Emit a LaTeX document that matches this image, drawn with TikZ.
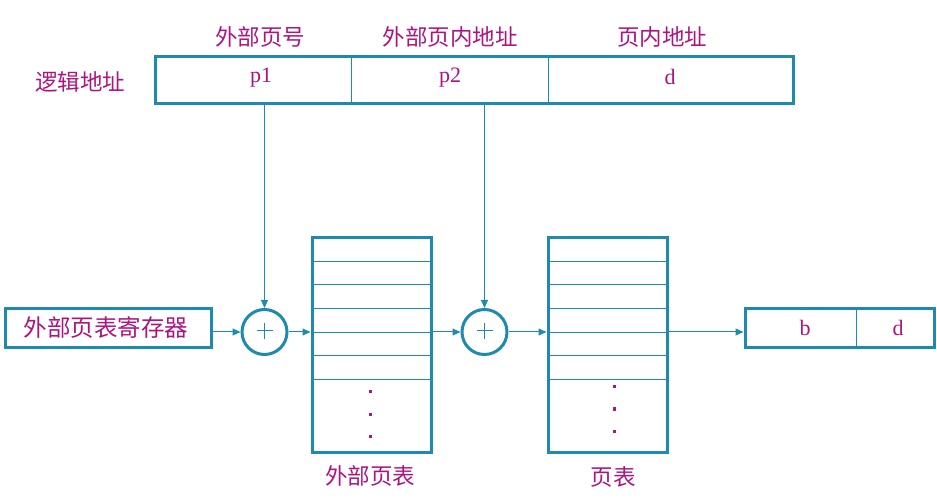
\documentclass[tikz,border=0pt]{standalone}
\usepackage{fontspec}
\newfontfamily\cjk{Noto Sans CJK SC}
\newfontfamily\lat{Liberation Serif}
\usetikzlibrary{arrows.meta,calc}
\definecolor{teal1}{RGB}{31,138,176}
\definecolor{mag}{RGB}{172,20,128}
\begin{document}
\begin{tikzpicture}[x=1pt,y=-1pt,
  thickbox/.style={draw=teal1,line width=3pt,inner sep=0pt,fill=white},
  thin/.style={draw=teal1,line width=1pt},
  arr/.style={draw=teal1,line width=1pt,-{Triangle[length=8pt,width=7pt]}},
  adder/.style={circle,draw=teal1,line width=3pt,minimum size=45pt,inner sep=0pt},
  cn/.style={text=mag,font=\cjk\fontsize{22.5pt}{24pt}\selectfont,inner sep=0pt},
  lt/.style={text=mag,font=\lat\fontsize{22pt}{24pt}\selectfont,inner sep=0pt},
  dotn/.style={fill=mag,inner sep=0pt,minimum size=3pt,rectangle}]
\useasboundingbox (0,0) rectangle (937,502);
% logical address
\node[thickbox,minimum width=638pt,minimum height=47pt] (la) at (474,80.5) {};
\draw[thin] (351,57) -- (351,104);
\draw[thin] (548,57) -- (548,104);
\node[lt] (p1) at (261,78) {p1};
\node[lt] (p2) at (450,78) {p2};
\node[lt] (dd) at (670,77) {d};
\node[cn] (h1) at (260,37) {外部页号};
\node[cn] (h2) at (450,37) {外部页内地址};
\node[cn] (h3) at (662,37) {页内地址};
\node[cn] (ljdz) at (80,82) {逻辑地址};
% register
\node[thickbox,minimum width=206pt,minimum height=39pt] (reg) at (108,328.5) {};
\node[cn,font=\cjk\fontsize{23.5pt}{24pt}\selectfont] (regt) at (106,328) {外部页表寄存器};
% adders
\node[adder] (c1) at (264.5,332) {};
\node[adder] (c2) at (484.5,332) {};
\foreach \c in {c1,c2}{
  \draw[thin] ($(\c.center)+(-8,-1)$) -- ($(\c.center)+(8,-1)$);
  \draw[thin] ($(\c.center)+(0,-9)$) -- ($(\c.center)+(0,7)$);
}
% tables
\node[thickbox,minimum width=119pt,minimum height=214pt] (opt) at (371.5,345) {};
\node[thickbox,minimum width=119pt,minimum height=214pt] (pt) at (607.5,345) {};
\foreach \y in {262,285,309,333,356,380}{
  \draw[thin] (313.5,\y) -- (429.5,\y);
  \draw[thin] (549.5,\y) -- (665.5,\y);
}
\foreach \y in {392,414,436}{ \node[dotn] at (370,\y) {}; }
\foreach \y in {387,409,431}{ \node[dotn] at (614,\y) {}; }
\node[cn] (optl) at (370,476) {外部页表};
\node[cn] (ptl) at (613,477) {页表};
% result
\node[thickbox,minimum width=189pt,minimum height=39pt] (res) at (839.5,328.5) {};
\draw[thin] (856,309) -- (856,348);
\node[lt] (bb) at (805,328) {b};
\node[lt] (d2) at (898,328) {d};
% connectors
\draw[arr] (c1 |- la.south) -- (c1.north);
\draw[arr] (c2 |- la.south) -- (c2.north);
\draw[arr] (reg.east |- c1) -- (c1.west);
\draw[arr] (c1.east) -- (c1 -| opt.west);
\draw[arr] (c1 -| opt.east) -- (c2.west);
\draw[arr] (c2.east) -- (c2 -| pt.west);
\draw[arr] (c2 -| pt.east) -- (c2 -| res.west);
\end{tikzpicture}
\end{document}
